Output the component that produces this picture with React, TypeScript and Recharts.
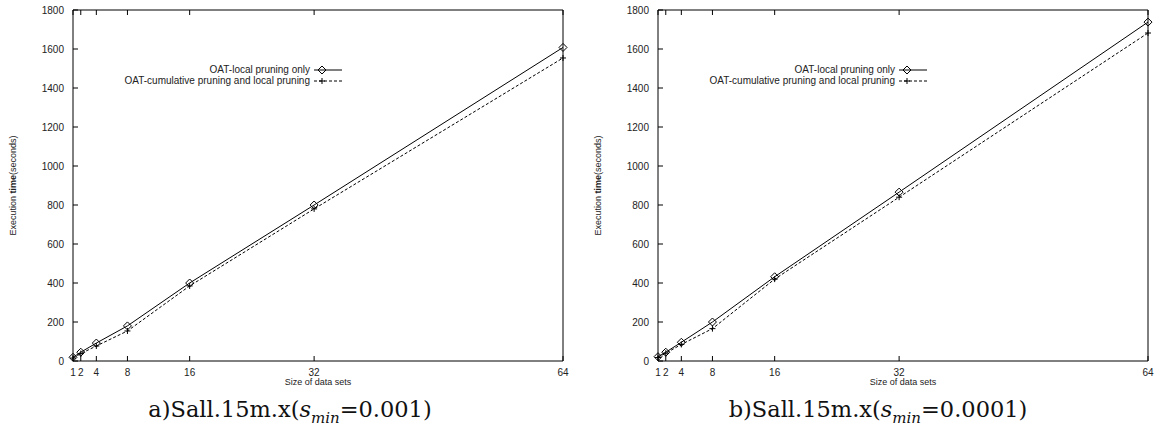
import { LineChart, Line, XAxis, YAxis, Legend } from 'recharts';

const sizes = [1, 2, 4, 8, 16, 32, 64];
const seriesNames = ['OAT-local pruning only', 'OAT-cumulative pruning and local pruning'];

// a) s_min = 0.001
const localA = [19, 45, 92, 180, 400, 800, 1608];
const cumulativeA = [15, 38, 77, 154, 385, 780, 1554];

// b) s_min = 0.0001
const localB = [22, 45, 96, 200, 432, 866, 1738];
const cumulativeB = [18, 40, 85, 166, 420, 840, 1682];

const yTicks = [0, 200, 400, 600, 800, 1000, 1200, 1400, 1600, 1800];

const SANS = '"Liberation Sans", Arial, Helvetica, sans-serif';
const TICK = 5;

const Diamond = (props: any) => {
    const { cx, cy } = props;
    if (cx == null || cy == null) return null;
    return <path d={`M${cx},${cy - 4}L${cx + 4},${cy}L${cx},${cy + 4}L${cx - 4},${cy}Z`} fill="none" stroke="#000" strokeWidth={1} />;
};

const Plus = (props: any) => {
    const { cx, cy } = props;
    if (cx == null || cy == null) return null;
    return <path d={`M${cx - 3},${cy}H${cx + 3}M${cx},${cy - 3}V${cy + 3}`} stroke="#000" strokeWidth={1} />;
};

const BottomTick = ({ x, y, payload }: any) => (
    <g>
        <line x1={x} y1={y} x2={x} y2={y - TICK} stroke="#000" />
        <text x={x} y={y + 15} textAnchor="middle" fontSize={10} fontFamily={SANS} fill="#222">{payload.value}</text>
    </g>
);

const TopTick = ({ x, y }: any) => <line x1={x} y1={y} x2={x} y2={y + TICK} stroke="#000" />;

const LeftTick = ({ x, y, payload }: any) => (
    <g>
        <line x1={x} y1={y} x2={x + TICK} y2={y} stroke="#000" />
        <text x={x - 9} y={y + 3.5} textAnchor="end" fontSize={10} fontFamily={SANS} fill="#222">{payload.value}</text>
    </g>
);

const RightTick = ({ x, y }: any) => <line x1={x} y1={y} x2={x - TICK} y2={y} stroke="#000" />;

const YLabel = ({ viewBox }: any) => {
    const cx = viewBox.x + 16;
    const cy = viewBox.y + viewBox.height / 2;
    return (
        <text x={cx} y={cy} transform={`rotate(-90 ${cx} ${cy})`} textAnchor="middle" fontSize={9} fontFamily={SANS} fill="#222">
            Execution <tspan fontWeight="bold">time</tspan>(seconds)
        </text>
    );
};

const KeyBox = () => {
    const textEnd = 210;
    return (
        <svg width={250} height={24} style={{ overflow: 'visible' }}>
            <text x={textEnd} y={11} textAnchor="end" fontSize={10} fontFamily={SANS} fill="#222">{seriesNames[0]}</text>
            <line x1={textEnd + 4} y1={8} x2={textEnd + 32} y2={8} stroke="#000" />
            <Diamond cx={textEnd + 12} cy={8} />
            <text x={textEnd} y={22} textAnchor="end" fontSize={10} fontFamily={SANS} fill="#222">{seriesNames[1]}</text>
            <line x1={textEnd + 4} y1={19} x2={textEnd + 32} y2={19} stroke="#000" strokeDasharray="3 2" />
            <Plus cx={textEnd + 12} cy={19} />
        </svg>
    );
};

function Panel({ local, cumulative, left, width, marginRight, titleCenter, title }: any) {
    const data = sizes.map((s, i) => ({ size: s, local: local[i], cumulative: cumulative[i] }));
    return (
        <div style={{ position: 'absolute', left, top: 0 }}>
            <LineChart width={width} height={429} data={data} margin={{ top: 9, right: marginRight, bottom: 38, left: 0 }}>
                <XAxis
                    dataKey="size"
                    type="number"
                    domain={[1, 64]}
                    ticks={sizes}
                    interval={0}
                    height={30}
                    tickSize={0}
                    tickMargin={0}
                    tickLine={false}
                    tick={<BottomTick />}
                    axisLine={{ stroke: '#000' }}
                    label={{ value: 'Size of data sets', position: 'insideBottom', offset: 6, fontSize: 9, fontFamily: SANS, fill: '#222' }}
                />
                <XAxis
                    xAxisId="top"
                    orientation="top"
                    dataKey="size"
                    type="number"
                    domain={[1, 64]}
                    ticks={sizes}
                    interval={0}
                    height={1}
                    tickSize={0}
                    tickMargin={0}
                    tickLine={false}
                    tick={<TopTick />}
                    axisLine={{ stroke: '#000' }}
                />
                <YAxis
                    type="number"
                    domain={[0, 1800]}
                    ticks={yTicks}
                    interval={0}
                    width={73}
                    tickSize={0}
                    tickMargin={0}
                    tickLine={false}
                    tick={<LeftTick />}
                    axisLine={{ stroke: '#000' }}
                    label={(p: any) => <YLabel {...p} />}
                />
                <YAxis
                    yAxisId="right"
                    orientation="right"
                    type="number"
                    domain={[0, 1800]}
                    ticks={yTicks}
                    interval={0}
                    width={1}
                    tickSize={0}
                    tickMargin={0}
                    tickLine={false}
                    tick={<RightTick />}
                    axisLine={{ stroke: '#000' }}
                />
                <Legend
                    layout="vertical"
                    align="center"
                    verticalAlign="middle"
                    wrapperStyle={{ left: 100, top: 62, width: 250 }}
                    content={() => <KeyBox />}
                />
                <Line
                    dataKey="local"
                    name={seriesNames[0]}
                    stroke="#000"
                    strokeWidth={1}
                    dot={<Diamond />}
                    activeDot={false}
                    isAnimationActive={false}
                />
                <Line
                    dataKey="cumulative"
                    name={seriesNames[1]}
                    stroke="#000"
                    strokeWidth={1}
                    strokeDasharray="3 2"
                    dot={<Plus />}
                    activeDot={false}
                    isAnimationActive={false}
                />
            </LineChart>
            <div
                style={{
                    position: 'absolute',
                    left: titleCenter - 250,
                    width: 500,
                    top: 396,
                    textAlign: 'center',
                    fontFamily: '"DejaVu Serif", serif',
                    fontSize: 22.5,
                    whiteSpace: 'nowrap',
                    color: '#111',
                }}
            >
                {title}
            </div>
        </div>
    );
}

export default function App() {
    return (
        <div style={{ position: 'absolute', left: 0, top: 0, width: 1155, height: 429, background: '#fff', overflow: 'hidden' }}>
            <Panel
                local={localA}
                cumulative={cumulativeA}
                left={0}
                width={600}
                marginRight={36}
                titleCenter={290}
                title={<span>a)Sall.15m.x(<i>s</i><sub style={{ fontSize: 15 }}><i>min</i></sub>=0.001)</span>}
            />
            <Panel
                local={localB}
                cumulative={cumulativeB}
                left={585}
                width={570}
                marginRight={6}
                titleCenter={293}
                title={<span>b)Sall.15m.x(<i>s</i><sub style={{ fontSize: 15 }}><i>min</i></sub>=0.0001)</span>}
            />
        </div>
    );
}
